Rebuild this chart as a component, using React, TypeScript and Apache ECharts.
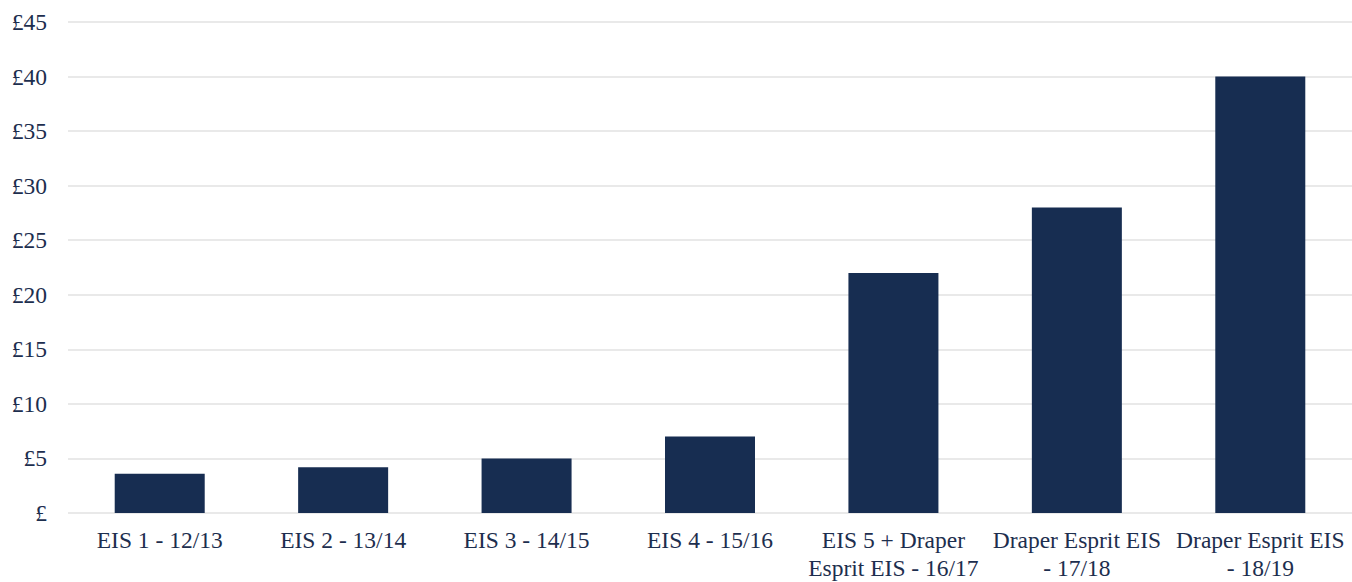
import React, { useEffect, useRef } from "react";
import * as echarts from "echarts";

const categories = [
  "EIS 1 - 12/13",
  "EIS 2 - 13/14",
  "EIS 3 - 14/15",
  "EIS 4 - 15/16",
  "EIS 5 + Draper\nEsprit EIS - 16/17",
  "Draper Esprit EIS\n- 17/18",
  "Draper Esprit EIS\n- 18/19",
];
const values = [3.6, 4.2, 5, 7, 22, 28, 40];
const yMax = 45;
const yInterval = 5;

const textColor = "#1d2e4e";
const barColor = "#172d51";
const serif = "'Liberation Serif', 'Times New Roman', Times, serif";

export default function App() {
  const ref = useRef<HTMLDivElement>(null);
  useEffect(() => {
    if (!ref.current) return;
    const chart = echarts.init(ref.current, undefined, { renderer: "svg" });
    chart.setOption({
      animation: false,
      backgroundColor: "#ffffff",
      grid: { left: 68, width: 1288, top: 22, bottom: 66, containLabel: false },
      xAxis: {
        type: "category",
        data: categories,
        axisLine: { show: false },
        axisTick: { show: false },
        axisLabel: {
          color: textColor,
          fontFamily: serif,
          fontSize: 23.5,
          lineHeight: 28,
          margin: 13,
          interval: 0,
        },
      },
      yAxis: {
        type: "value",
        min: 0,
        max: yMax,
        interval: yInterval,
        axisLine: { show: false },
        axisTick: { show: false },
        splitLine: { lineStyle: { color: "#e2e2e2", width: 1.5 } },
        axisLabel: {
          color: textColor,
          fontFamily: serif,
          fontSize: 23.5,
          margin: 21,
          formatter: (v: number) => (v === 0 ? "£" : "£" + v),
        },
      },
      series: [
        {
          type: "bar",
          data: values,
          barWidth: 90,
          itemStyle: { color: barColor },
        },
      ],
    });
    return () => chart.dispose();
  }, []);
  return (
    <div
      ref={ref}
      style={{ position: "fixed", left: 0, top: 0, width: 1352, height: 582 }}
    />
  );
}
